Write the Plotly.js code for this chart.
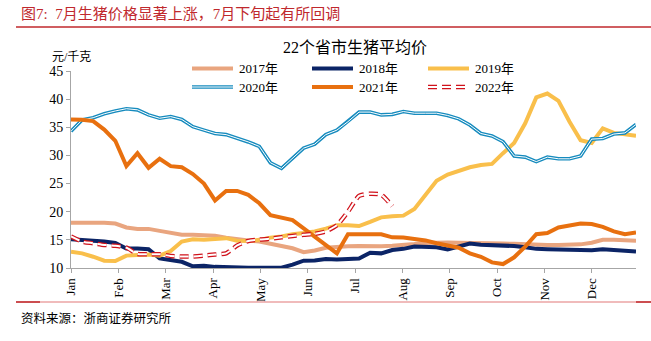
<!DOCTYPE html>
<html>
<head>
<meta charset="utf-8">
<script src="https://cdn.plot.ly/plotly-3.0.1.min.js"></script>
<style>html,body{margin:0;padding:0;background:#fff;}#chart{width:651px;height:341px;}</style>
</head>
<body>
<div id="chart"></div>
<script>
// Month tick labels
const months = ["Jan","Feb","Mar","Apr","May","Jun","Jul","Aug","Sep","Oct","Nov","Dec"];
// Weekly average hog price of 22 provinces (yuan/kg)
const y2017 = [18.05,18.05,18.1,18.05,17.9,17.2,16.95,16.95,16.6,16.2,15.9,15.9,15.9,15.75,15.4,15.1,14.9,14.7,14.35,13.9,13.5,12.8,13.1,13.6,13.8,13.85,13.9,13.85,13.85,13.95,14.05,14.25,14.45,14.55,14.55,14.5,14.5,14.5,14.4,14.35,14.3,14.2,14.1,14.1,14.1,14.1,14.2,14.5,15.0,15.0,14.9,14.85];
const y2018 = [15.1,15.0,14.85,14.7,14.45,13.45,13.45,13.35,11.7,11.4,11.1,10.3,10.4,10.2,10.1,10.05,10.05,10.05,10.05,10.05,10.6,11.3,11.35,11.6,11.5,11.6,11.7,12.7,12.6,13.2,13.4,13.8,13.8,13.7,13.3,13.9,14.35,14.15,14.1,14.0,13.9,13.7,13.4,13.35,13.3,13.1,13.15,13.15,13.35,13.25,13.1,12.95];
const y2019 = [12.9,12.6,12.0,11.3,11.25,12.2,12.3,12.4,12.2,13.0,14.7,15.1,15.0,15.2,15.3,14.85,14.8,15.0,15.4,15.6,16.0,16.2,16.5,17.0,17.6,17.6,17.45,18.2,19.0,19.2,19.3,20.5,23.1,25.5,26.6,27.3,27.9,28.3,28.5,30.4,32.2,35.7,40.3,41.0,39.7,36.0,32.7,32.2,34.8,34.0,33.7,33.5];
const y2020 = [34.3,36.3,36.7,37.4,37.9,38.3,38.1,37.2,36.6,36.9,36.4,35.1,34.5,33.9,33.7,33.1,32.4,31.6,28.7,27.7,29.5,31.3,32.0,33.7,34.5,36.0,37.7,37.7,37.2,37.3,37.8,37.5,37.5,37.5,37.1,36.5,35.4,33.9,33.45,32.45,29.9,29.7,28.9,29.7,29.4,29.4,29.9,32.9,33.0,33.8,34.0,35.5];
const y2021 = [36.4,36.35,36.1,34.6,32.6,28.1,30.4,27.8,29.4,28.1,27.9,26.7,25.0,22.0,23.7,23.7,23.0,21.5,19.4,18.9,18.5,17.05,15.6,14.1,12.6,16.0,16.0,15.9,16.0,15.45,15.4,15.15,14.9,14.4,14.0,13.6,12.6,12.0,11.0,10.7,11.9,13.8,16.0,16.2,17.2,17.6,17.9,17.8,17.3,16.5,16.0,16.3];
const y2022 = [15.6,14.7,14.4,14.1,13.95,13.6,12.5,12.45,12.45,12.15,12.05,12.05,12.2,12.4,12.6,14.0,14.8,15.05,15.2,15.45,15.7,15.9,16.05,16.5,17.6,20.0,22.8,23.2,23.0,21.0];
const seriesNames = ["2017年","2018年","2019年","2020年","2021年","2022年"];

const colors = ['#E9A57F', '#0B2466', '#F9BF4B', '#168BBE', '#E8700F', '#D0121B'];
const DASH = '9px,5px';

const weeks = y2017.map((_, i) => i);
const weeksPerMonth = 4.274;
const monthPos = months.map((_, k) => k * weeksPerMonth);

const serif = "'Liberation Serif','Times New Roman','Noto Sans CJK SC',serif";
const cjk = "'Liberation Serif','Noto Sans CJK SC',serif";

const W = 651, H = 341, L = 71, R = 15, T = 71, B = 73;
const pw = W - L - R, ph = H - T - B;
const px = x => (x - L) / pw;
const py = y => (H - B - y) / ph;

function tr(y, color, width, extra) {
  return Object.assign({
    type: 'scatter', mode: 'lines', x: weeks.slice(0, y.length), y: y,
    line: {color: color, width: width}, hoverinfo: 'skip', showlegend: false
  }, extra || {});
}

const data = [
  tr(y2017, colors[0], 4),
  tr(y2018, colors[1], 4),
  tr(y2019, colors[2], 4),
  tr(y2020, colors[3], 3.6),
  tr(y2020, '#ffffff', 1),
  tr(y2021, colors[4], 4),
  tr(y2022, colors[5], 4.5, {line: {color: colors[5], width: 4.5, dash: DASH, shape: 'spline', smoothing: 0.6}}),
  tr(y2022, '#ffffff', 2, {line: {color: '#ffffff', width: 2, dash: DASH, shape: 'spline', smoothing: 0.6}})
];

// Manual legend (3 columns x 2 rows)
const legCols = [192, 312, 428];
const legRows = [68.5, 87];
const legLen = 41;
const legShapes = [];
const legText = [];
seriesNames.forEach((name, i) => {
  const cx = legCols[i % 3], cy = legRows[Math.floor(i / 3)];
  const base = {type: 'line', xref: 'paper', yref: 'paper', x0: px(cx), x1: px(cx + legLen), y0: py(cy), y1: py(cy)};
  if (i === 5) {
    legShapes.push(Object.assign({}, base, {line: {color: colors[i], width: 4.5, dash: DASH}}));
    legShapes.push(Object.assign({}, base, {line: {color: '#ffffff', width: 2, dash: DASH}}));
  } else if (i === 3) {
    legShapes.push(Object.assign({}, base, {line: {color: colors[i], width: 3.6}}));
    legShapes.push(Object.assign({}, base, {line: {color: '#ffffff', width: 1}}));
  } else {
    legShapes.push(Object.assign({}, base, {line: {color: colors[i], width: 4}}));
  }
  legText.push({text: name, xref: 'paper', yref: 'paper', x: px(cx + legLen + 4), y: py(cy),
    xanchor: 'left', yanchor: 'middle', showarrow: false,
    font: {family: cjk, size: 13, color: '#000'}});
});

const layout = {
  width: W, height: H,
  margin: {l: L, r: R, t: T, b: B},
  paper_bgcolor: '#fff', plot_bgcolor: '#fff',
  showlegend: false,
  title: {
    text: '22个省市生猪平均价',
    font: {family: cjk, size: 16, color: '#000'},
    x: 355 / W, xanchor: 'center', xref: 'container',
    y: 1 - 47 / H, yanchor: 'middle', yref: 'container'
  },
  xaxis: {
    range: [0, 51], tickmode: 'array', tickvals: monthPos, ticktext: months,
    tickangle: -90, ticks: 'outside', ticklen: 4, tickcolor: '#a6a6a6',
    showline: true, linecolor: '#a6a6a6', linewidth: 1,
    showgrid: false, zeroline: false,
    tickfont: {family: serif, size: 13, color: '#000'}
  },
  yaxis: {
    range: [10, 45], dtick: 5, tick0: 10, ticks: 'outside', ticklen: 4, tickcolor: '#a6a6a6',
    showline: true, linecolor: '#a6a6a6', linewidth: 1,
    showgrid: false, zeroline: false,
    tickfont: {family: serif, size: 14, color: '#000'}
  },
  annotations: [
    {text: '图7:  7月生猪价格显著上涨，7月下旬起有所回调', xref: 'paper', yref: 'paper',
     x: px(19), y: py(14), xanchor: 'left', yanchor: 'middle', showarrow: false,
     font: {family: cjk, size: 15, color: '#C0282D'}},
    {text: '元/千克', xref: 'paper', yref: 'paper', x: px(50), y: py(57),
     xanchor: 'left', yanchor: 'middle', showarrow: false,
     font: {family: cjk, size: 12, color: '#000'}},
    {text: '资料来源：浙商证券研究所', xref: 'paper', yref: 'paper', x: px(19), y: py(318),
     xanchor: 'left', yanchor: 'middle', showarrow: false,
     font: {family: cjk, size: 12.5, color: '#000'}}
  ].concat(legText),
  shapes: [
    {type: 'line', xref: 'paper', yref: 'paper', x0: px(16), x1: px(651), y0: py(27), y1: py(27),
     line: {color: '#C0282D', width: 1.5}},
    {type: 'line', xref: 'paper', yref: 'paper', x0: px(16), x1: px(651), y0: py(302), y1: py(302),
     line: {color: '#EBA5A5', width: 1.5}},
    {type: 'line', xref: 'paper', yref: 'paper', x0: px(16), x1: px(40), y0: py(302), y1: py(302),
     line: {color: '#C0282D', width: 1.5}},
    {type: 'line', xref: 'paper', yref: 'paper', x0: px(636), x1: px(651), y0: py(302), y1: py(302),
     line: {color: '#C0282D', width: 1.5}}
  ].concat(legShapes),
  hovermode: false
};

Plotly.newPlot('chart', data, layout, {displayModeBar: false, staticPlot: true}).then(gd => {
  // let thick lines sitting on the axis draw fully, as in the reference
  gd.querySelectorAll('.cartesianlayer .plot').forEach(g => g.removeAttribute('clip-path'));
});
</script>
</body>
</html>
